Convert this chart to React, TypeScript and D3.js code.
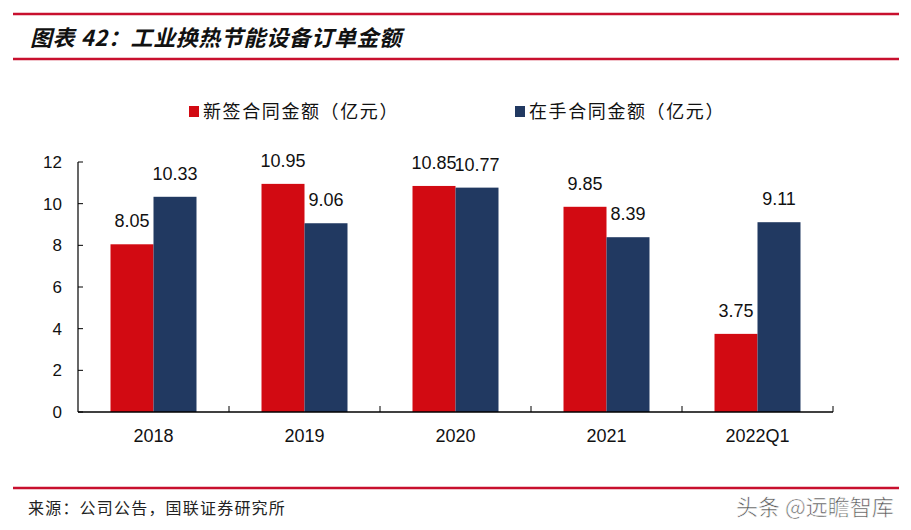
import React from "react";
import * as d3 from "d3";

const categories = ["2018", "2019", "2020", "2021", "2022Q1"];
const newContracts = [8.05, 10.95, 10.85, 9.85, 3.75];
const backlog = [10.33, 9.06, 10.77, 8.39, 9.11];
const seriesNames = ["新签合同金额（亿元）", "在手合同金额（亿元）"];
const yTicks = [0, 2, 4, 6, 8, 10, 12];

const W = 911;
const H = 530;
const RED = "#D20A12";
const NAVY = "#213961";
const LINE = "#C8102E";
const NUM_FONT = "'Liberation Sans', Arial, sans-serif";
const CJK = "'Noto Sans CJK SC', sans-serif";

export default function App() {
  const x0 = d3.scaleBand<string>().domain(categories).range([78, 833]).paddingInner(0).paddingOuter(0);
  const x1 = d3.scaleBand<string>().domain(["a", "b"]).range([0, x0.bandwidth()]).paddingInner(0).paddingOuter(0.756);
  const y = d3.scaleLinear().domain([0, 12]).range([412, 162]);
  const series = [
    { key: "a", name: seriesNames[0], values: newContracts, color: RED },
    { key: "b", name: seriesNames[1], values: backlog, color: NAVY },
  ];
  const boundaries = categories.map((c) => (x0(c) as number) + x0.bandwidth());

  return (
    <svg width={W} height={H} style={{ position: "absolute", left: 0, top: 0, background: "#fff" }}>
      <rect x={0} y={0} width={W} height={H} fill="#fff" />
      {/* header lines */}
      <line x1={13} x2={899} y1={14} y2={14} stroke={LINE} strokeWidth={2.5} />
      <line x1={13} x2={899} y1={59} y2={59} stroke={LINE} strokeWidth={2.5} />
      <text x={30} y={46} fontFamily={CJK} fontSize={22} fontWeight="bold" fontStyle="italic" fill="#111"
        letterSpacing={0.6}>图表 42：工业换热节能设备订单金额</text>

      {/* legend */}
      {series.map((s, i) => {
        const lx = i === 0 ? 189 : 515;
        return (
          <g key={s.key}>
            <rect x={lx} y={106} width={10} height={11} fill={s.color} />
            <text x={lx + 14} y={118} fontFamily={CJK} fontSize={18} letterSpacing={1.6} fill="#111">{s.name}</text>
          </g>
        );
      })}

      {/* bars */}
      {series.map((s) => (
        <g key={s.key}>
          {categories.map((c, i) => {
            const bx = (x0(c) as number) + (x1(s.key) as number);
            const v = s.values[i];
            return (
              <g key={c}>
                <rect x={bx} y={y(v)} width={x1.bandwidth()} height={y(0) - y(v)} fill={s.color} />
                <text x={bx + x1.bandwidth() / 2} y={y(v) - 17} textAnchor="middle" fontFamily={NUM_FONT}
                  fontSize={18} fill="#111">{v.toFixed(2)}</text>
              </g>
            );
          })}
        </g>
      ))}

      {/* y axis */}
      <line x1={78} x2={78} y1={y(12)} y2={y(0)} stroke="#000" strokeWidth={1.2} />
      {yTicks.map((t) => (
        <g key={t}>
          <line x1={78} x2={83} y1={y(t)} y2={y(t)} stroke="#000" strokeWidth={1} />
          <text x={62} y={y(t) + 6} textAnchor="end" fontFamily={NUM_FONT} fontSize={17} fill="#111">{t}</text>
        </g>
      ))}

      {/* x axis */}
      <line x1={78} x2={833} y1={y(0)} y2={y(0)} stroke="#000" strokeWidth={1.5} />
      {boundaries.map((bx, i) => (
        <line key={i} x1={bx} x2={bx} y1={y(0)} y2={y(0) - 6} stroke="#000" strokeWidth={1} />
      ))}
      {categories.map((c) => (
        <text key={c} x={(x0(c) as number) + x0.bandwidth() / 2} y={442} textAnchor="middle"
          fontFamily={NUM_FONT} fontSize={18} fill="#111">{c}</text>
      ))}

      {/* footer */}
      <line x1={13} x2={899} y1={488} y2={488} stroke={LINE} strokeWidth={2.5} />
      <text x={28} y={514} fontFamily={CJK} fontSize={16} letterSpacing={1.2} fill="#222">来源：公司公告，国联证券研究所</text>
      <text x={736} y={515} fontFamily={CJK} fontSize={22} fill="#555" stroke="#fff" strokeWidth={0.6}>头条 @远瞻智库</text>
    </svg>
  );
}
